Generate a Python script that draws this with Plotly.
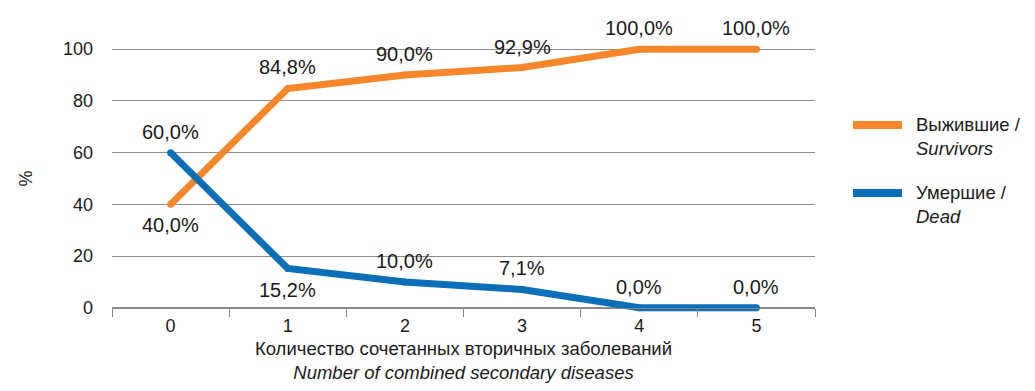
import plotly.graph_objects as go

categories = ["0", "1", "2", "3", "4", "5"]
survivors = [40.0, 84.8, 90.0, 92.9, 100.0, 100.0]
dead = [60.0, 15.2, 10.0, 7.1, 0.0, 0.0]
surv_labels = ["40,0%", "84,8%", "90,0%", "92,9%", "100,0%", "100,0%"]
dead_labels = ["60,0%", "15,2%", "10,0%", "7,1%", "0,0%", "0,0%"]
surv_above = [False, True, True, True, True, True]
dead_above = [True, False, True, True, True, True]
y_ticks = [0, 20, 40, 60, 80, 100]
series_names = ["Выжившие /<br><i>Survivors</i>", "Умершие /<br><i>Dead</i>"]

FONT = "Liberation Sans, Arial, sans-serif"
ORANGE = "#F5872A"
BLUE = "#0B6FB8"
TXT = "#1a1a1a"

# plot area in px: x 112..815, y 44..313 ; y range padded so lines at 0/100 are not clipped
Y_LO, Y_HI = -2, 102
T, B = 44, 313

fig = go.Figure()
fig.add_trace(go.Scatter(x=categories, y=survivors, mode="lines+markers", name=series_names[0],
                         line=dict(color=ORANGE, width=7),
                         marker=dict(color=ORANGE, size=7, line=dict(width=0)),
                         showlegend=False))
fig.add_trace(go.Scatter(x=categories, y=dead, mode="lines+markers", name=series_names[1],
                         line=dict(color=BLUE, width=7),
                         marker=dict(color=BLUE, size=7, line=dict(width=0)),
                         showlegend=False))

annotations = []
for vals, labs, above in ((survivors, surv_labels, surv_above), (dead, dead_labels, dead_above)):
    for c, v, t, a in zip(categories, vals, labs, above):
        annotations.append(dict(x=c, y=v, xref="x", yref="y", text=t, showarrow=False,
                                yshift=21 if a else -21,
                                font=dict(size=20, color=TXT, family=FONT)))

def px_x(p):
    return (p - 112) / 703.0

def px_y(p):
    return (B - p) / float(B - T)

shapes = []
for name, color, ly in ((series_names[0], ORANGE, 125), (series_names[1], BLUE, 193)):
    shapes.append(dict(type="line", xref="paper", yref="paper",
                       x0=px_x(853), x1=px_x(902), y0=px_y(ly), y1=px_y(ly),
                       line=dict(color=color, width=8)))
    annotations.append(dict(x=px_x(914), y=px_y(ly - 13), xref="paper", yref="paper",
                            xanchor="left", yanchor="top", align="left", showarrow=False,
                            text=name, font=dict(size=18.5, color=TXT, family=FONT)))

zero_pos = (0 - Y_LO) / float(Y_HI - Y_LO)

fig.update_layout(
    width=1035, height=391,
    margin=dict(l=112, r=220, t=T, b=391 - B),
    paper_bgcolor="white", plot_bgcolor="white",
    font=dict(family=FONT, size=18, color=TXT),
    showlegend=False,
    annotations=annotations,
    shapes=shapes,
    xaxis=dict(type="category", tickson="boundaries", ticks="outside", ticklen=8,
               tickcolor="#888", showline=True, linecolor="#888", linewidth=1,
               anchor="free", position=zero_pos,
               showgrid=False, range=[-0.5, 5.5], automargin=False,
               tickfont=dict(size=18), ticklabelstandoff=2,
               title=dict(text="Количество сочетанных вторичных заболеваний<br><i>Number of combined secondary diseases</i>",
                          font=dict(size=18.5), standoff=6)),
    yaxis=dict(range=[Y_LO, Y_HI], tickvals=y_ticks, showgrid=True, gridcolor="#8c8c8c",
               gridwidth=1, zeroline=False, showline=False, ticks="", automargin=False,
               tickfont=dict(size=18), ticklabelstandoff=18,
               title=dict(text="%", font=dict(size=18), standoff=25)),
)

fig.write_html("out.html", config={"displayModeBar": False},
               post_script="document.body.style.margin='0';document.body.style.padding='0';")
